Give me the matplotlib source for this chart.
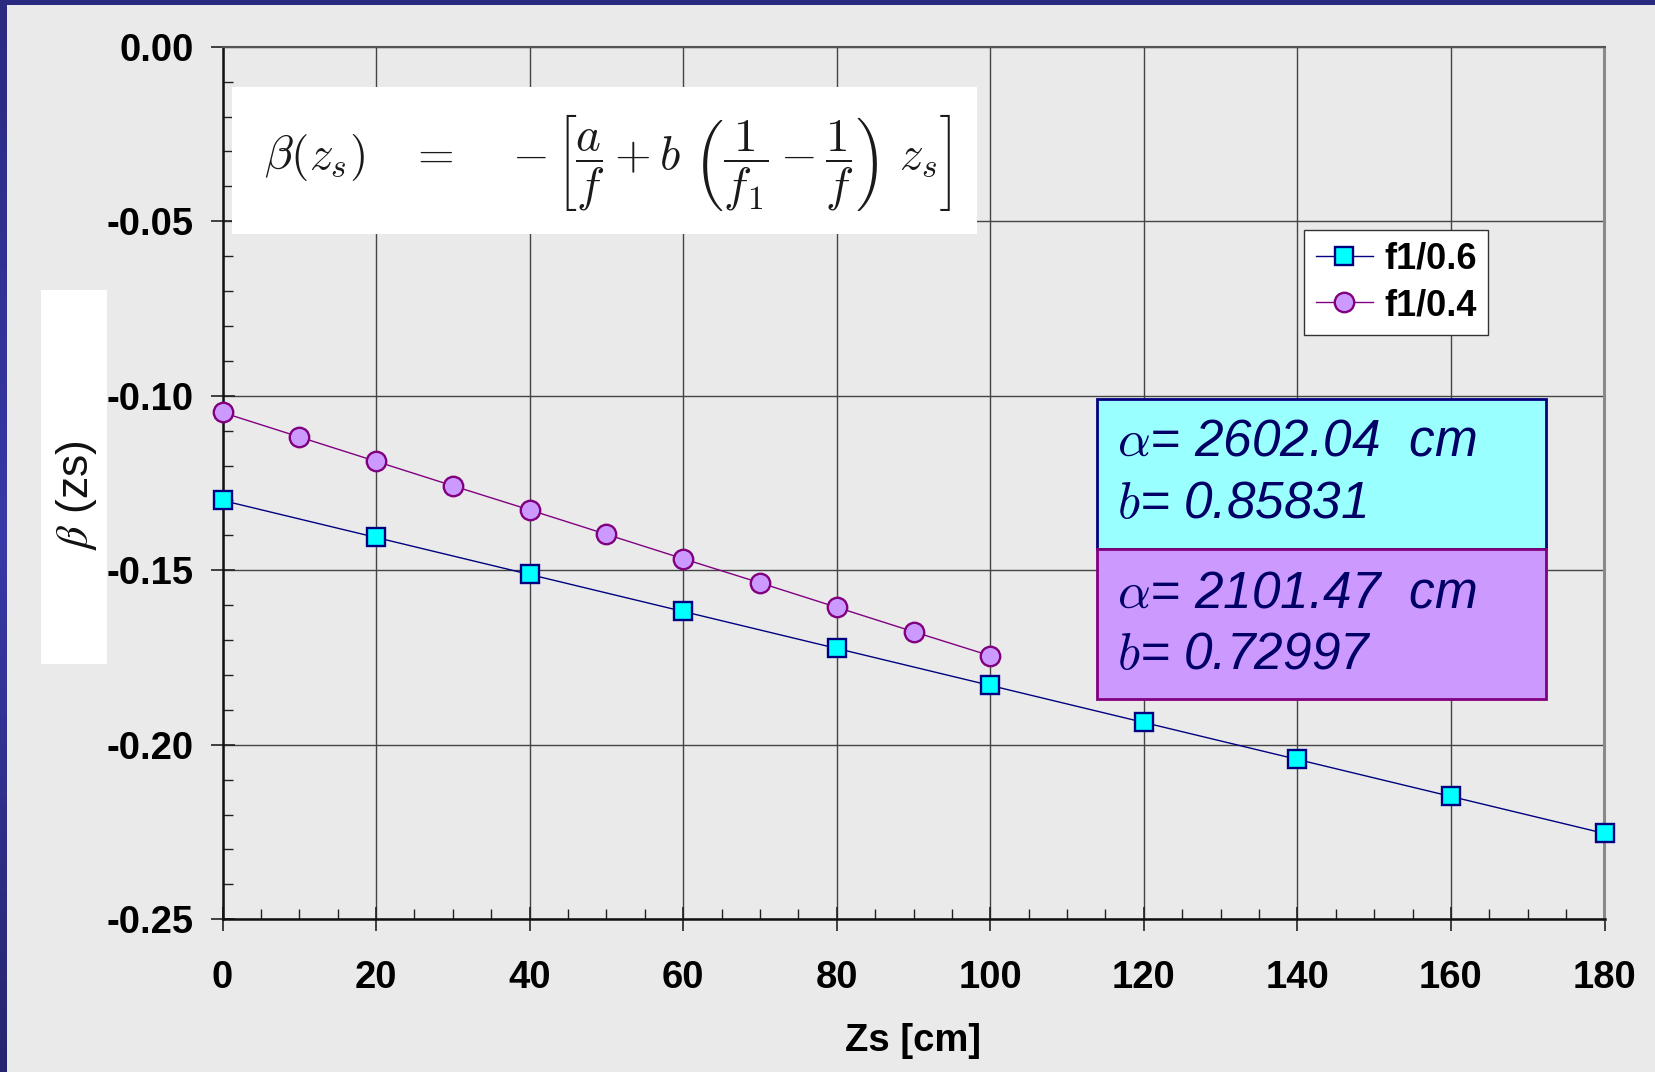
import matplotlib.pyplot as plt
import numpy as np
from matplotlib.patches import Rectangle
from matplotlib.ticker import MultipleLocator, FormatStrFormatter

# dane pomiarowe beta(zs) dla dwoch ustawien ogniskowej
zs_f06 = [0, 20, 40, 60, 80, 100, 120, 140, 160, 180]
beta_f06 = [-0.1300, -0.1406, -0.1512, -0.1618, -0.1724,
            -0.1830, -0.1936, -0.2042, -0.2148, -0.2254]

zs_f04 = [0, 10, 20, 30, 40, 50, 60, 70, 80, 90, 100]
beta_f04 = [-0.1048, -0.1118, -0.1188, -0.1258, -0.1327, -0.1397,
            -0.1467, -0.1536, -0.1606, -0.1676, -0.1745]

etykiety_serii = ['f1/0.6', 'f1/0.4']
parametry_f06 = ('2602.04', '0.85831')
parametry_f04 = ('2101.47', '0.72997')

TLO = '#EAEAEA'
GRANAT = '#000080'
FIOLET = '#800080'
TEKST_PARAM = '#000066'

plt.rcParams['font.family'] = ['Liberation Sans', 'DejaVu Sans']

W, H = 1656, 1072
fig = plt.figure(figsize=(W / 100, H / 100), dpi=100, facecolor=TLO)


def fx(px):
    return px / W


def fy(py):
    return 1 - py / H


# niebieska ramka slajdu (lewa i gorna krawedz)
ramka = fig.add_axes([0, 0, fx(7), 1])
ramka.imshow(np.linspace(0, 1, 256).reshape(-1, 1), aspect='auto',
             cmap=plt.matplotlib.colors.LinearSegmentedColormap.from_list(
                 'r', ['#2A2A80', '#3838A8', '#26266E']))
ramka.axis('off')
fig.patches.append(Rectangle((0, fy(5)), 1, fy(0) - fy(5), transform=fig.transFigure,
                             facecolor='#2A2A80', edgecolor='none', zorder=5))

# biale tlo pod opisem osi Y
fig.patches.append(Rectangle((fx(41), fy(664)), fx(66), fy(290) - fy(664),
                             transform=fig.transFigure, facecolor='white',
                             edgecolor='none', zorder=0))

ax = fig.add_axes([fx(222.5), fy(919.3), fx(1604.5 - 222.5), fy(46.7) - fy(919.3)])
ax.set_facecolor(TLO)

ax.plot(zs_f06, beta_f06, color=GRANAT, linewidth=1.0, marker='s', markersize=13.5,
        markerfacecolor='#00FFFF', markeredgecolor=GRANAT, markeredgewidth=1.7,
        label=etykiety_serii[0], clip_on=False, zorder=4)
ax.plot(zs_f04, beta_f04, color=FIOLET, linewidth=1.0, marker='o', markersize=14,
        markerfacecolor='#CC99FF', markeredgecolor=FIOLET, markeredgewidth=1.7,
        label=etykiety_serii[1], clip_on=False, zorder=4)

ax.set_xlim(0, 180)
ax.set_ylim(-0.25, 0.0)
ax.xaxis.set_major_locator(MultipleLocator(20))
ax.xaxis.set_minor_locator(MultipleLocator(5))
ax.yaxis.set_major_locator(MultipleLocator(0.05))
ax.yaxis.set_minor_locator(MultipleLocator(0.01))
ax.yaxis.set_major_formatter(FormatStrFormatter('%.2f'))

ax.grid(True, which='major', color='#444444', linewidth=1.0)
ax.set_axisbelow(True)
ax.tick_params(which='major', direction='inout', length=17, width=1.2, color='#222222',
               labelsize=27.5)
ax.tick_params(which='minor', direction='in', length=7, width=1.0, color='#222222')
ax.tick_params(axis='x', which='major', pad=21)
ax.tick_params(axis='y', which='major', pad=12)
for lab in ax.get_xticklabels() + ax.get_yticklabels():
    lab.set_fontweight('bold')

for s in ['left', 'bottom']:
    ax.spines[s].set_color('#111111')
    ax.spines[s].set_linewidth(1.8)
ax.spines['top'].set_color('#555555')
ax.spines['top'].set_linewidth(1.5)
ax.spines['right'].set_color('#8A8A8A')
ax.spines['right'].set_linewidth(2.2)

ax.set_xlabel('Zs [cm]', fontsize=27.5, fontweight='bold', labelpad=19)

fig.text(fx(77), fy(495), r'$\beta$ (zs)', rotation=90, fontsize=32,
         ha='center', va='center', math_fontfamily='stix', color='#111111')

# wzor na beta(zs) w bialej ramce
fig.patches.append(Rectangle((fx(232), fy(234)), fx(977 - 232), fy(87) - fy(234),
                             transform=fig.transFigure, facecolor='white',
                             edgecolor='none', zorder=3))
fig.text(fx(264), fy(162),
         r'$\beta(z_s)\quad=\quad-\left[\dfrac{a}{f}+b\ \left(\dfrac{1}{f_1}-\dfrac{1}{f}\right)\ z_s\right]$',
         fontsize=34, ha='left', va='center', math_fontfamily='cm', color='#1A1A1A',
         zorder=6)

leg = ax.legend(loc='upper left', bbox_to_anchor=((1304 - 222.5) / 1382, 1 - (230 - 46.7) / 872.6),
                borderaxespad=0, fancybox=False, framealpha=1, edgecolor='#333333',
                prop={'weight': 'bold', 'size': 26}, handlelength=1.6,
                handletextpad=0.3, labelspacing=0.32, borderpad=0.32)
leg.get_frame().set_linewidth(1.0)

# ramki z parametrami dopasowania
fig.patches.append(Rectangle((fx(1097), fy(549)), fx(1546 - 1097), fy(399) - fy(549),
                             transform=fig.transFigure, facecolor='#99FFFF',
                             edgecolor=GRANAT, linewidth=2, zorder=7))
fig.patches.append(Rectangle((fx(1097), fy(699)), fx(1546 - 1097), fy(549) - fy(699),
                             transform=fig.transFigure, facecolor='#CC99FF',
                             edgecolor=FIOLET, linewidth=2, zorder=7))

for (a_val, b_val), y1, y2 in [(parametry_f06, 455, 518), (parametry_f04, 607, 669)]:
    fig.text(fx(1117), fy(y1), r'$\alpha$' + '= ' + a_val + '  cm', fontsize=37,
             fontstyle='italic', color=TEKST_PARAM, va='baseline', ha='left',
             math_fontfamily='cm', zorder=8)
    fig.text(fx(1117), fy(y2), r'$b$' + '= ' + b_val, fontsize=37,
             fontstyle='italic', color=TEKST_PARAM, va='baseline', ha='left',
             math_fontfamily='cm', zorder=8)

fig.savefig('out.png', dpi=100, facecolor=TLO)
